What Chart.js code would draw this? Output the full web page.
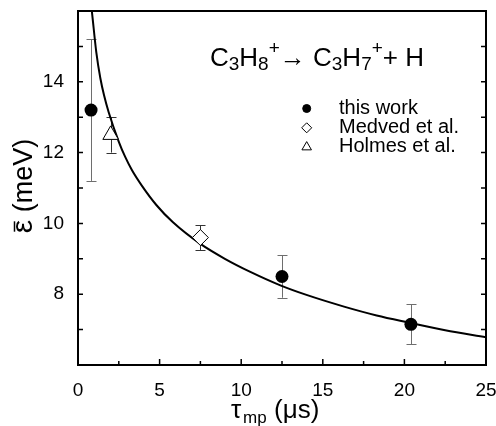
<!DOCTYPE html>
<html><head><meta charset="utf-8">
<script src="https://cdn.jsdelivr.net/npm/chart.js@4/dist/chart.umd.min.js"></script>
<style>html,body{margin:0;padding:0;background:#fff}#wrap{width:496px;height:426px}</style>
</head><body><div id="wrap"><canvas id="c" width="496" height="426"></canvas></div>
<script>
// ---- data ----
const thisWorkX = [0.8, 12.5, 20.4];
const thisWorkY = [13.2, 8.5, 7.15];
const thisWorkErr = [2.0, 0.6, 0.57];
const medvedX = [7.5];
const medvedY = [9.6];
const medvedErr = [0.35];
const holmesX = [2.0];
const holmesY = [12.5];
const holmesErr = [0.5];
const fitX = [0.78, 0.86, 1.12, 1.37, 1.6, 1.88, 2.49, 2.9, 3.31, 3.92, 4.8, 5.82, 7.5, 9.0, 10.56, 12.4, 14.0, 16.3, 18.3, 20.36, 22.5, 25];
const fitY = [16.27, 15.95, 14.84, 14.10, 13.61, 13.14, 12.32, 11.87, 11.50, 11.06, 10.52, 10.03, 9.42, 9.00, 8.63, 8.25, 7.98, 7.65, 7.40, 7.19, 6.98, 6.78];
const xTicks = [0, 5, 10, 15, 20, 25];
const xMinorTicks = [2.5, 7.5, 12.5, 17.5, 22.5];
const yTicks = [8, 10, 12, 14];
const yMinorTicks = [7, 9, 11, 13, 15];
const seriesLabels = ['this work', 'Medved et al.', 'Holmes et al.'];

const FONT = "'Liberation Sans', Arial, Helvetica, sans-serif";
Chart.defaults.font.family = FONT;
Chart.defaults.color = '#000';

const pts = (xs, ys) => xs.map((x, i) => ({x: x, y: ys[i]}));
const noPad = s => { s.paddingLeft = 0; s.paddingRight = 0; s.paddingTop = 0; s.paddingBottom = 0; };

const decorPlugin = {
  id: 'decor',
  beforeDatasetsDraw(chart) {
    const ctx = chart.ctx, xs = chart.scales.x, ys = chart.scales.y;
    ctx.save();
    chart.data.datasets.forEach(ds => {
      if (!ds.errors) return;
      ctx.strokeStyle = ds.errColor;
      ctx.lineWidth = 1;
      ds.data.forEach((p, i) => {
        const px = Math.round(xs.getPixelForValue(p.x)) + 0.5;
        const y1 = ys.getPixelForValue(p.y + ds.errors[i]);
        const y2 = ys.getPixelForValue(p.y - ds.errors[i]);
        ctx.beginPath();
        ctx.moveTo(px, y1); ctx.lineTo(px, y2);
        ctx.moveTo(px - 5, Math.round(y1) + 0.5); ctx.lineTo(px + 5, Math.round(y1) + 0.5);
        ctx.moveTo(px - 5, Math.round(y2) + 0.5); ctx.lineTo(px + 5, Math.round(y2) + 0.5);
        ctx.stroke();
      });
    });
    ctx.restore();
  },
  afterDraw(chart) {
    const ctx = chart.ctx, a = chart.chartArea, xs = chart.scales.x, ys = chart.scales.y;
    ctx.save();
    // frame
    ctx.strokeStyle = '#000';
    ctx.lineWidth = 2;
    ctx.strokeRect(a.left, a.top, a.right - a.left, a.bottom - a.top);
    // ticks (inward)
    ctx.lineWidth = 1.5;
    ctx.beginPath();
    xTicks.forEach(v => { const p = xs.getPixelForValue(v); ctx.moveTo(p, a.bottom); ctx.lineTo(p, a.bottom - 6); });
    xMinorTicks.forEach(v => { const p = xs.getPixelForValue(v); ctx.moveTo(p, a.bottom); ctx.lineTo(p, a.bottom - 4); });
    yTicks.concat(yMinorTicks).forEach(v => {
      const p = ys.getPixelForValue(v);
      ctx.moveTo(a.left, p); ctx.lineTo(a.left + 5, p);
      ctx.moveTo(a.right, p); ctx.lineTo(a.right - 5, p);
    });
    ctx.stroke();

    ctx.fillStyle = '#000';
    // x axis title: tau_mp (µs)
    ctx.textBaseline = 'alphabetic';
    ctx.textAlign = 'left';
    ctx.font = '26px ' + FONT;
    ctx.fillText('τ', 231, 418);
    ctx.font = '17px ' + FONT;
    ctx.fillText('mp', 243, 423);
    ctx.font = '26px ' + FONT;
    ctx.fillText('(μs)', 274, 418);

    // y axis title: epsilon-bar (meV)
    ctx.save();
    ctx.translate(32, 186);
    ctx.rotate(-Math.PI / 2);
    ctx.textAlign = 'left';
    const rest = ' (meV)';
    ctx.font = '30px ' + FONT;
    const we = ctx.measureText('ε').width;
    ctx.font = '27px ' + FONT;
    const wr = ctx.measureText(rest).width;
    const x0 = -(we + wr) / 2;
    ctx.font = '30px ' + FONT;
    ctx.fillText('ε', x0, 0);
    ctx.font = '27px ' + FONT;
    ctx.fillText(rest, x0 + we, 0);
    ctx.lineWidth = 1.5;
    ctx.beginPath();
    ctx.moveTo(x0 + 1.5, -17.5); ctx.lineTo(x0 + we - 1.5, -17.5);
    ctx.stroke();
    ctx.restore();

    // reaction annotation
    const segs = [['C','n'],['3','b'],['H','n'],['8','b'],['+','p'],['→ ','n'],['C','n'],['3','b'],['H','n'],['7','b'],['+','p'],['+ H','n']];
    let x = 210;
    segs.forEach(s => {
      let y = 66;
      if (s[1] === 'n') ctx.font = '26px ' + FONT;
      else { ctx.font = '19px ' + FONT; y = s[1] === 'b' ? 70 : 54; }
      ctx.fillText(s[0], x, y);
      x += ctx.measureText(s[0]).width;
    });

    // legend
    const legendRows = [1, 2, 3];
    ctx.font = '20px ' + FONT;
    legendRows.forEach((di, r) => {
      const ds = chart.data.datasets[di];
      const cy = 108.5 + r * 19.3;
      ctx.fillStyle = ds.backgroundColor;
      ctx.strokeStyle = ds.borderColor;
      ctx.lineWidth = 1;
      Chart.helpers.drawPoint(ctx, {pointStyle: ds.pointStyle, radius: ds.legendRadius, borderWidth: 1, rotation: 0}, 306.7, cy);
      ctx.fillStyle = '#000';
      ctx.fillText(ds.label, 339, cy + 5);
    });
    ctx.restore();
  }
};

new Chart(document.getElementById('c'), {
  type: 'scatter',
  data: {
    datasets: [
      {label: 'fit', data: pts(fitX, fitY), showLine: true, borderColor: '#000', borderWidth: 2,
       pointRadius: 0, cubicInterpolationMode: 'monotone', fill: false, order: 5},
      {label: seriesLabels[0], data: pts(thisWorkX, thisWorkY), pointStyle: 'circle', pointRadius: 6.5,
       backgroundColor: '#000', borderColor: '#000', borderWidth: 0, order: 0,
       errors: thisWorkErr, errColor: '#6e6e6e', legendRadius: 4},
      {label: seriesLabels[1], data: pts(medvedX, medvedY), pointStyle: 'rectRot', pointRadius: 8,
       backgroundColor: '#fff', borderColor: '#000', borderWidth: 1, order: 1,
       errors: medvedErr, errColor: '#333', legendRadius: 5},
      {label: seriesLabels[2], data: pts(holmesX, holmesY), pointStyle: 'triangle', pointRadius: 9,
       backgroundColor: '#fff', borderColor: '#000', borderWidth: 1, order: 2,
       errors: holmesErr, errColor: '#333', legendRadius: 5.5}
    ]
  },
  options: {
    responsive: false,
    animation: false,
    events: [],
    layout: {padding: {top: 11, right: 10, left: 0, bottom: 0}},
    plugins: {legend: {display: false}, tooltip: {enabled: false}},
    scales: {
      x: {type: 'linear', min: 0, max: 25,
          grid: {display: false}, border: {display: false},
          ticks: {font: {size: 19}, color: '#000', padding: 6},
          afterBuildTicks: s => { s.ticks = xTicks.map(v => ({value: v})); },
          afterFit: s => { s.height = 61; noPad(s); }},
      y: {type: 'linear', min: 6, max: 16,
          grid: {display: false}, border: {display: false},
          ticks: {font: {size: 19}, color: '#000', padding: 6},
          afterBuildTicks: s => { s.ticks = yTicks.map(v => ({value: v})); },
          afterFit: s => { s.width = 78; noPad(s); }}
    }
  },
  plugins: [decorPlugin]
});
</script>
</body></html>
